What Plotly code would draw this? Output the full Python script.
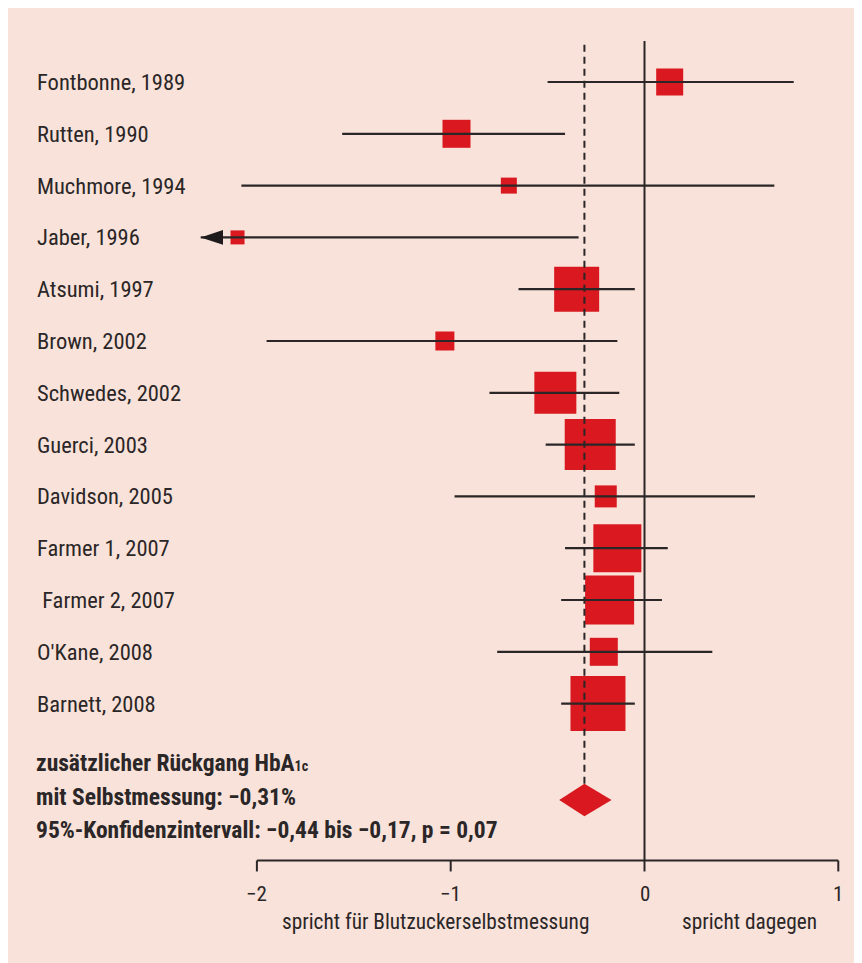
import plotly.graph_objects as go

# ---------------- data ----------------
studies = ["Fontbonne, 1989", "Rutten, 1990", "Muchmore, 1994", "Jaber, 1996",
           "Atsumi, 1997", "Brown, 2002", "Schwedes, 2002", "Guerci, 2003",
           "Davidson, 2005", "Farmer 1, 2007", "\u00a0Farmer 2, 2007",
           "O'Kane, 2008", "Barnett, 2008"]
effect = [0.13, -0.97, -0.70, -2.10, -0.35, -1.03, -0.46, -0.28,
          -0.20, -0.14, -0.18, -0.21, -0.24]
ci_low = [-0.50, -1.56, -2.08, -2.29, -0.65, -1.95, -0.80, -0.51,
          -0.98, -0.41, -0.43, -0.76, -0.43]   # Jaber: off-scale, shown as arrow
ci_high = [0.77, -0.41, 0.67, -0.34, -0.05, -0.14, -0.13, -0.05,
           0.57, 0.12, 0.09, 0.35, -0.05]
weight_px = [27, 28, 16, 14, 45, 19, 42, 51, 22, 48, 49, 28, 55]
truncated = [False, False, False, True, False, False, False, False,
             False, False, False, False, False]

pooled = -0.31
pooled_low = -0.44
pooled_high = -0.17

tick_vals = [-2, -1, 0, 1]
tick_text = ["\u22122", "\u22121", "0", "1"]

summary_lines = ["zus\u00e4tzlicher R\u00fcckgang HbA<span style='font-size:14px'>1c</span>",
                 "mit Selbstmessung: \u22120,31%",
                 "95%-Konfidenzintervall: \u22120,44 bis \u22120,17, p = 0,07"]
axis_notes = ["spricht f\u00fcr Blutzuckerselbstmessung", "spricht dagegen"]

# ---------------- styling ----------------
RED = "#d9181f"
INK = "#2b2627"
BG = "#f8e2d9"
FONT = "Roboto Condensed, Liberation Sans Narrow, DejaVu Sans Condensed, Roboto, sans-serif"

rows = [-i for i in range(len(studies))]
y_top = 0.79
y_axis = -15.03
y_tick_end = -15.24
y_ticklab = -15.68
y_note = -16.20
y_pool = -13.86
pool_h = 0.315
label_x = -3.145
arrow_base = -2.175
arrow_half = 0.142

fig = go.Figure()

# squares (study weights)
fig.add_trace(go.Scatter(
    x=effect, y=rows, mode="markers",
    marker=dict(symbol="square", size=weight_px, color=RED, opacity=1, line=dict(width=0)),
    hoverinfo="skip", showlegend=False))

# confidence intervals
cx, cy = [], []
for lo, hi, r in zip(ci_low, ci_high, rows):
    cx += [lo, hi, None]
    cy += [r, r, None]
fig.add_trace(go.Scatter(x=cx, y=cy, mode="lines",
                         line=dict(color=INK, width=2.2),
                         hoverinfo="skip", showlegend=False))

# arrow heads for truncated intervals
for lo, r, t in zip(ci_low, rows, truncated):
    if t:
        fig.add_trace(go.Scatter(
            x=[lo, arrow_base, arrow_base, lo], y=[r, r + arrow_half, r - arrow_half, r],
            mode="lines", fill="toself", fillcolor="#1f1b1c",
            line=dict(width=0, color="#1f1b1c"), hoverinfo="skip", showlegend=False))

# pooled diamond
fig.add_trace(go.Scatter(
    x=[pooled_low, pooled, pooled_high, pooled, pooled_low],
    y=[y_pool, y_pool + pool_h, y_pool, y_pool - pool_h, y_pool],
    mode="lines", fill="toself", fillcolor=RED, line=dict(width=0, color=RED),
    hoverinfo="skip", showlegend=False))

shapes = []
# zero line
shapes.append(dict(type="line", xref="x", yref="y", x0=0, x1=0, y0=y_axis, y1=y_top,
                   line=dict(color=INK, width=2), layer="above"))
# pooled dashed line
shapes.append(dict(type="line", xref="x", yref="y", x0=pooled, x1=pooled,
                   y0=y_pool + pool_h, y1=y_top,
                   line=dict(color=INK, width=2, dash="7px,5px"), layer="above"))
# bottom axis
shapes.append(dict(type="line", xref="x", yref="y", x0=min(tick_vals), x1=max(tick_vals),
                   y0=y_axis, y1=y_axis, line=dict(color=INK, width=2)))
for tv in tick_vals:
    shapes.append(dict(type="line", xref="x", yref="y", x0=tv, x1=tv,
                       y0=y_axis, y1=y_tick_end, line=dict(color=INK, width=2)))

annotations = []
for s, r in zip(studies, rows):
    annotations.append(dict(x=label_x, y=r, xref="x", yref="y", text=s,
                            showarrow=False, xanchor="left", yanchor="middle",
                            font=dict(family=FONT, size=22.5, color=INK)))
for tv, tt in zip(tick_vals, tick_text):
    annotations.append(dict(x=tv, y=y_ticklab, xref="x", yref="y", text=tt,
                            showarrow=False, xanchor="center", yanchor="middle",
                            font=dict(family=FONT, size=21, color=INK)))
annotations.append(dict(x=-1.076, y=y_note, xref="x", yref="y", text=axis_notes[0],
                        showarrow=False, xanchor="center", yanchor="middle",
                        font=dict(family=FONT, size=21.3, color=INK)))
annotations.append(dict(x=0.544, y=y_note, xref="x", yref="y", text=axis_notes[1],
                        showarrow=False, xanchor="center", yanchor="middle",
                        font=dict(family=FONT, size=21.3, color=INK)))
summary_y = [-13.14, -13.80, -14.44]
for t, yy in zip(summary_lines, summary_y):
    annotations.append(dict(x=-3.152, y=yy, xref="x", yref="y", text="<b>" + t + "</b>",
                            showarrow=False, xanchor="left", yanchor="middle",
                            font=dict(family=FONT, size=23.5, color=INK)))

fig.update_layout(
    width=862, height=963,
    margin=dict(l=0, r=0, t=0, b=0, pad=0),
    paper_bgcolor="white", plot_bgcolor=BG,
    xaxis=dict(range=[-3.2843, 1.1636], visible=False, fixedrange=True),
    yaxis=dict(range=[-17.162, 1.4286], visible=False, fixedrange=True),
    shapes=shapes, annotations=annotations,
    showlegend=False,
)

fig.write_html("out.html")
